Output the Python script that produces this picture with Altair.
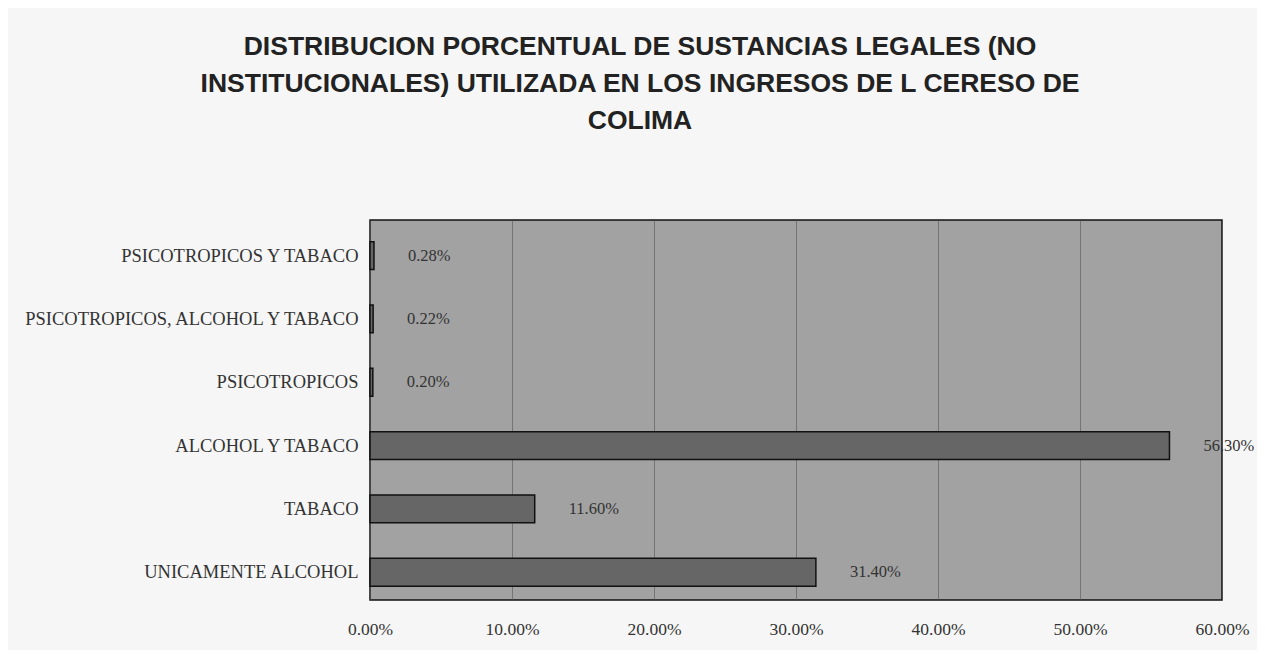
import altair as alt
import pandas as pd

categories = [
    "PSICOTROPICOS Y TABACO",
    "PSICOTROPICOS, ALCOHOL Y TABACO",
    "PSICOTROPICOS",
    "ALCOHOL Y TABACO",
    "TABACO",
    "UNICAMENTE ALCOHOL",
]
values = [0.0028, 0.0022, 0.0020, 0.5630, 0.1160, 0.3140]
x_ticks = [0.0, 0.1, 0.2, 0.3, 0.4, 0.5, 0.6]

df = pd.DataFrame({"cat": categories, "val": values})

title = alt.TitleParams(
    text=[
        "DISTRIBUCION PORCENTUAL DE SUSTANCIAS LEGALES (NO",
        "INSTITUCIONALES) UTILIZADA EN LOS INGRESOS DE L CERESO DE",
        "COLIMA",
    ],
    font="Liberation Sans",
    fontSize=26.5,
    fontWeight="bold",
    color="#222222",
    lineHeight=37,
    anchor="middle",
    dx=-156,
    offset=86,
)

y_enc = alt.Y(
    "cat:N",
    sort=categories,
    title=None,
    scale=alt.Scale(paddingInner=0.56, paddingOuter=0.28, align=0.61),
    axis=alt.Axis(
        labelFont="Liberation Serif",
        labelFontSize=18.5,
        labelColor="#333333",
        labelPadding=12,
        ticks=False,
        domain=False,
        labelLimit=400,
    ),
)
x_enc = alt.X(
    "val:Q",
    title=None,
    scale=alt.Scale(domain=[0, 0.6], nice=False),
    axis=alt.Axis(
        values=x_ticks,
        format=".2%",
        labelFont="Liberation Serif",
        labelFontSize=17.5,
        labelColor="#333333",
        labelPadding=20,
        labelFlush=False,
        ticks=False,
        domain=False,
        grid=True,
        gridColor="#555555",
        gridOpacity=0.6,
        gridWidth=1,
    ),
)

bars = alt.Chart(df).mark_bar(
    color="#666666", stroke="#111111", strokeWidth=1.5
).encode(x=x_enc, y=y_enc)

labels = alt.Chart(df).mark_text(
    align="left", dx=34, font="Liberation Serif", fontSize=16.5, color="#333333"
).encode(
    x=alt.X("val:Q"),
    y=alt.Y("cat:N", sort=categories),
    text=alt.Text("val:Q", format=".2%"),
)

chart = (
    alt.layer(bars, labels)
    .properties(
        width=852,
        height=380,
        title=title,
        autosize=alt.AutoSizeParams(type="none"),
        padding={"left": 362, "top": 212, "right": 35, "bottom": 50},
        background="#f6f6f6",
    )
    .configure_view(fill="#a2a2a2", stroke="#111111", strokeWidth=1.5)
)

chart.save("out.html", embed_options={"renderer": "svg", "actions": False})
